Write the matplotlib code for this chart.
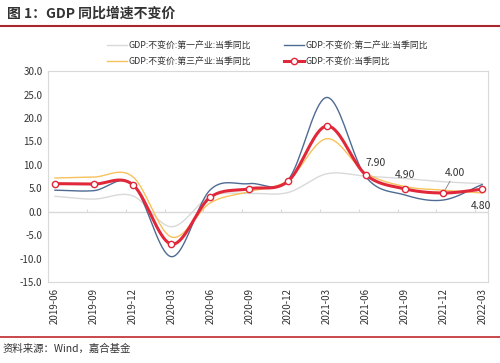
import numpy as np
import matplotlib.pyplot as plt
from matplotlib.lines import Line2D

plt.rcParams['font.family'] = ['Noto Sans CJK SC', 'DejaVu Sans']

# quarterly data
quarters = ['2019-06', '2019-09', '2019-12', '2020-03', '2020-06', '2020-09',
            '2020-12', '2021-03', '2021-06', '2021-09', '2021-12', '2022-03']
primary = [3.3, 2.7, 3.4, -3.2, 3.3, 3.9, 4.1, 8.1, 7.6, 7.1, 6.4, 6.0]
secondary = [4.6, 4.5, 5.9, -9.6, 4.7, 6.0, 6.8, 24.4, 7.5, 3.6, 2.5, 5.8]
tertiary = [7.2, 7.4, 7.5, -5.4, 1.9, 4.3, 6.7, 15.6, 8.3, 5.4, 4.6, 4.0]
total = [6.0, 5.9, 5.8, -6.9, 3.1, 4.9, 6.5, 18.3, 7.9, 4.9, 4.0, 4.8]

names = ['GDP:不变价:第一产业:当季同比', 'GDP:不变价:第二产业:当季同比',
         'GDP:不变价:第三产业:当季同比', 'GDP:不变价:当季同比']


def smooth(y, n=20):
    # catmull-rom curve through the points (like excel smoothed line)
    y = np.asarray(y, float)
    x = np.arange(len(y), dtype=float)
    px = np.concatenate([[2 * x[0] - x[1]], x, [2 * x[-1] - x[-2]]])
    py = np.concatenate([[2 * y[0] - y[1]], y, [2 * y[-1] - y[-2]]])
    xs, ys = [], []
    t = np.linspace(0, 1, n, endpoint=False)
    for i in range(1, len(px) - 2):
        for p, out in ((px, xs), (py, ys)):
            p0, p1, p2, p3 = p[i - 1], p[i], p[i + 1], p[i + 2]
            out.append(0.5 * ((2 * p1) + (-p0 + p2) * t
                              + (2 * p0 - 5 * p1 + 4 * p2 - p3) * t ** 2
                              + (-p0 + 3 * p1 - 3 * p2 + p3) * t ** 3))
    xs.append([x[-1]])
    ys.append([y[-1]])
    return np.concatenate(xs), np.concatenate(ys)


fig = plt.figure(figsize=(5, 3.63), dpi=100)
ax = fig.add_axes([0.096, 0.223, 0.88, 0.581])

c_pri, c_sec, c_ter, c_tot = '#d9d9d9', '#4f6b93', '#f7c25c', '#e0283a'
x = np.arange(len(quarters))

ax.axhline(0, color='#d9d9d9', lw=1, zorder=1)
ax.vlines(x - 0.18, 0, 0.6, color='#d9d9d9', lw=0.8, zorder=1)

for vals, c, lw in ((primary, c_pri, 1.0), (secondary, c_sec, 1.0),
                    (tertiary, c_ter, 1.0)):
    sx, sy = smooth(vals)
    ax.plot(sx, sy, color=c, lw=lw, zorder=2)
sx, sy = smooth(total)
ax.plot(sx, sy, color=c_tot, lw=2.2, zorder=3)
ax.plot(x, total, 'o', ms=4.5, mfc='white', mec=c_tot, mew=1.0, zorder=4)

# value labels
ax.annotate('%.2f' % total[8], (x[8], total[8]), xytext=(0, 6),
            textcoords='offset points', fontsize=7.5, color='#333333')
ax.annotate('%.2f' % total[9], (x[9], total[9]), xytext=(0, 8),
            textcoords='offset points', fontsize=7.5, color='#333333',
            ha='center')
ax.annotate('%.2f' % total[10], (x[10], total[10]), xytext=(8, 12),
            textcoords='offset points', fontsize=7.5, color='#333333',
            ha='center',
            arrowprops=dict(arrowstyle='-', color='#7f7f7f', lw=0.6,
                            shrinkA=0, shrinkB=3))
ax.annotate('%.2f' % total[11], (x[11], total[11]), xytext=(-1, -14),
            textcoords='offset points', fontsize=7.5, color='#333333',
            ha='center')

ax.set_xlim(-0.18, 11.15)
ax.set_ylim(-15, 30)
ax.set_yticks(np.arange(-15, 31, 5))
ax.set_yticklabels(['%.1f' % v for v in np.arange(-15, 31, 5)])
ax.set_xticks(x)
ax.set_xticklabels(quarters, rotation=90)
ax.tick_params(axis='both', length=0, labelsize=7, colors='#333333', pad=4)
for s in ax.spines.values():
    s.set_color('#d9d9d9')
    s.set_linewidth(0.8)

handles = [Line2D([], [], color=c_pri, lw=1), Line2D([], [], color=c_sec, lw=1),
           Line2D([], [], color=c_ter, lw=1),
           Line2D([], [], color=c_tot, lw=2.2, marker='o', ms=4.5,
                  mfc='white', mec=c_tot)]
order = [0, 2, 1, 3]
fig.legend([handles[i] for i in order], [names[i] for i in order], ncol=2,
           loc='center', bbox_to_anchor=(0.535, 0.853), frameon=False,
           fontsize=6.4, handlelength=2.25, handletextpad=0.25,
           columnspacing=3.6, labelspacing=0.75, labelcolor='#333333')

fig.text(0.014, 0.962, '图 1：GDP 同比增速不变价', fontsize=10,
         fontweight='bold', color='#333333', va='center')
fig.add_artist(Line2D([0.0, 1.0], [0.928, 0.928], color='#a8262c', lw=1.5))
fig.add_artist(Line2D([0.0, 1.0], [0.072, 0.072], color='#c0272d', lw=1.2))
fig.text(0.005, 0.038, '资料来源：Wind，嘉合基金', fontsize=7.5,
         color='#333333', va='center')

fig.savefig('out.png', dpi=100)
